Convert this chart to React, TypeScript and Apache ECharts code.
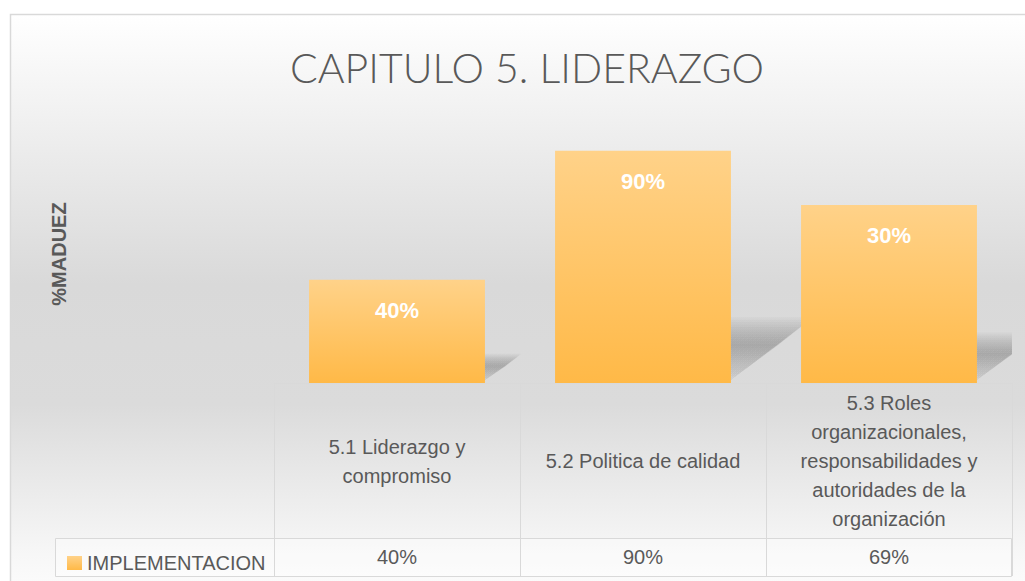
import React, { useEffect, useRef } from "react";
import * as echarts from "echarts";

const chartTitle = "CAPITULO 5. LIDERAZGO";
const yAxisTitle = "%MADUEZ";
const seriesName = "IMPLEMENTACION";
const categories = [
  "5.1 Liderazgo y\ncompromiso",
  "5.2 Politica de calidad",
  "5.3 Roles\norganizacionales,\nresponsabilidades y\nautoridades de la\norganización",
];
const values = [0.4, 0.9, 0.69];
const barLabels = ["40%", "90%", "30%"];
const tableValues = ["40%", "90%", "69%"];

const FONT = "Liberation Sans";
const TEXT = "#595959";
const LINE = "#d9d9d9";

export default function App() {
  const ref = useRef<HTMLDivElement>(null);
  useEffect(() => {
    if (!ref.current) return;
    const chart = echarts.init(ref.current, undefined, { renderer: "svg" });
    const barW = 0.715;
    const barGrad = new echarts.graphic.LinearGradient(0, 0, 0, 1, [
      { offset: 0, color: "#ffd289" },
      { offset: 1, color: "#ffb947" },
    ]);
    const shadowData = values.map((v, i) => [i, v]);
    chart.setOption({
      animation: false,
      graphic: [
        {
          type: "rect",
          z: -10,
          silent: true,
          shape: { x: 10.5, y: 14.5, width: 1030, height: 600 },
          style: {
            stroke: LINE,
            lineWidth: 1.5,
            fill: new echarts.graphic.LinearGradient(0, 0, 0, 1, [
              { offset: 0, color: "#ffffff" },
              { offset: 0.45, color: "#d9d9d9" },
              { offset: 0.65, color: "#dbdbdb" },
              { offset: 0.9, color: "#f7f7f7" },
              { offset: 1, color: "#ffffff" },
            ]),
          },
        },
        {
          type: "rect",
          silent: true,
          shape: { x: 55.5, y: 538.5, width: 956, height: 38 },
          style: { stroke: LINE, lineWidth: 1, fill: "rgba(255,255,255,0.35)" },
        },
      ],
      title: {
        text: chartTitle,
        left: 522,
        textAlign: "center",
        top: 42,
        textStyle: { fontFamily: "Lato", fontSize: 41, fontWeight: 300, color: TEXT },
      },
      legend: {
        left: 62,
        top: 548,
        icon: "rect",
        itemWidth: 15,
        itemHeight: 14,
        itemGap: 5,
        textStyle: { fontFamily: FONT, fontSize: 20, color: TEXT },
        data: [seriesName],
      },
      grid: { left: 274, right: 13, top: 125, bottom: 198 },
      xAxis: [
        {
          type: "category",
          data: categories,
          axisLine: { show: true, lineStyle: { color: LINE, width: 1 } },
          axisTick: { show: true, length: 193, interval: 0, lineStyle: { color: LINE } },
          axisLabel: {
            interval: 0,
            margin: 78,
            verticalAlign: "middle",
            fontFamily: FONT,
            fontSize: 20,
            lineHeight: 29,
            color: TEXT,
          },
        },
        {
          type: "category",
          position: "bottom",
          data: categories,
          axisLine: { show: false },
          axisTick: { show: false },
          axisLabel: {
            interval: 0,
            margin: 174,
            verticalAlign: "middle",
            fontFamily: FONT,
            fontSize: 20,
            color: TEXT,
            formatter: (_v: string, i: number) => tableValues[i],
          },
        },
      ],
      yAxis: {
        type: "value",
        min: 0,
        max: 1,
        name: yAxisTitle,
        nameLocation: "middle",
        nameRotate: 90,
        nameGap: 205,
        nameTextStyle: { fontFamily: FONT, fontSize: 20, fontWeight: "bold", color: TEXT },
        axisLine: { show: false },
        axisTick: { show: false },
        axisLabel: { show: false },
        splitLine: { show: false },
      },
      series: [
        {
          type: "custom",
          z: 1,
          silent: true,
          clip: true,
          data: shadowData,
          renderItem: (_p: any, api: any) => {
            const base = api.coord([api.value(0), 0]);
            const top = api.coord([api.value(0), api.value(1)]);
            const band = api.size([1, 0])[0];
            const w = band * barW;
            const xl = base[0] - w / 2;
            const xr = base[0] + w / 2;
            const h = base[1] - top[1];
            const a = h * 0.3;
            const b = h * 0.24;
            const children = [];
            const n = 12;
            for (let k = 0; k < n; k++) {
              const s = 0.7 + (k * 0.48) / (n - 1);
              const ak = a * s;
              const bk = b * s;
              children.push({
                type: "polygon",
                shape: {
                  points: [
                    [xl, base[1]],
                    [xr - 4, base[1]],
                    [xr + ak, base[1] - bk],
                    [xl + ak, base[1] - bk],
                  ],
                },
                style: {
                  fill: new echarts.graphic.LinearGradient(0, 0, 0, 1, [
                    { offset: 0, color: "rgba(0,0,0,0.028)" },
                    { offset: 1, color: "rgba(0,0,0,0.004)" },
                  ]),
                },
              });
            }
            return { type: "group", children };
          },
        },
        {
          type: "bar",
          name: seriesName,
          z: 2,
          data: values,
          barWidth: "71.5%",
          itemStyle: { color: barGrad },
          label: {
            show: true,
            position: "insideTop",
            distance: 20,
            fontFamily: FONT,
            fontSize: 22,
            fontWeight: "bold",
            color: "#ffffff",
            formatter: (p: any) => barLabels[p.dataIndex],
          },
        },
      ],
    });
    return () => chart.dispose();
  }, []);
  return (
    <div
      ref={ref}
      style={{ position: "absolute", left: 0, top: 0, width: 1025, height: 581 }}
    />
  );
}
